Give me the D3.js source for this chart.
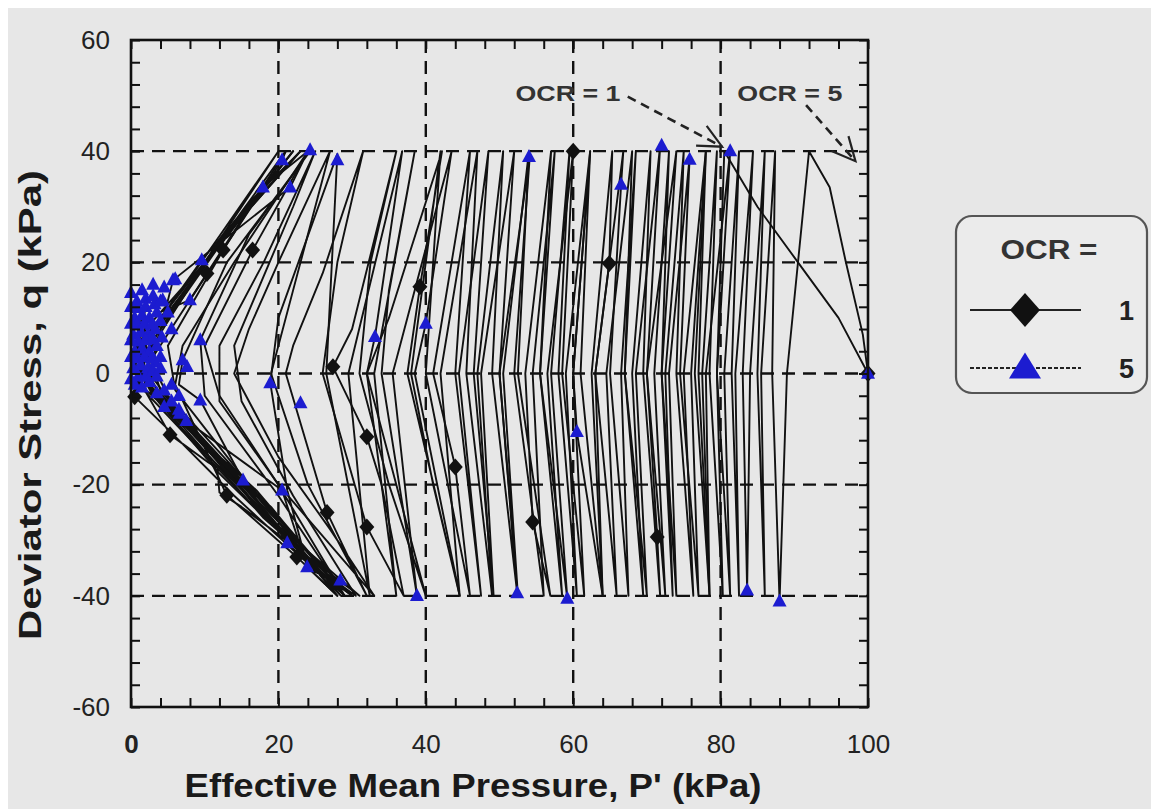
<!DOCTYPE html>
<html><head><meta charset="utf-8">
<script src="https://cdn.jsdelivr.net/npm/d3@7"></script>
<style>body{margin:0;background:#fff;} svg{display:block}</style>
</head><body><svg id="c" width="1151" height="809"></svg>
<script>
// ---------------- DATA ----------------
const xTickValues = [0, 20, 40, 60, 80, 100];
const yTickValues = [-60, -40, -20, 0, 20, 40, 60];
const gridX = [20, 40, 60, 80];
const gridY = [-40, -20, 0, 20, 40];
const legendTitle = "OCR =";
const seriesLabels = ["1", "5"];

// OCR = 1 stress path (p', q) in kPa
const ocr1Path = [
[100,0],[96,10],[90.5,20],[85,30],[80.5,40],
[79.5,0],[80.3,-40],
[78.5,0],[79.5,40],
[77.5,0],[78.5,-40],
[76.5,0],[78,40],
[75,0],[76.3,-40],
[74,0],[75,40],
[72.5,0],[73.5,-40],
[72,0],[74,40],
[70,0],[71.4,-29.4],[71.8,-40],
[69.5,0],[70.5,40],
[68,0],[69.5,-40],
[67,0],[68,40],
[64.5,0],[65.9,-40],
[63,0],[64.9,19.8],[65.3,40],
[62.5,0],[64,-40],
[61,0],[62.3,40],
[60,0],[61.5,-40],
[58.5,0],[60,40],
[56.5,0],[58.5,-40],
[55.5,0],[57,40],
[53.5,0],[54.5,-26.7],[56.9,-40],
[52.5,0],[54,40],
[50.5,0],[52.5,-40],
[50,0],[52,40],
[47.5,0],[49.2,-40],
[46.5,0],[48.5,40],
[44.5,0],[47.5,-40],
[44,0],[46,40],
[41,0],[44,-16.8],[46,-40],
[40,0],[42,40],
[38,0],[41,-20],[44.6,-40],
[37.5,0],[39.2,15.6],[42.2,40],
[35,10],[32,0],[36,-20],[40,-40],
[35,-20],[31,0],[32.5,20],[36,40],
[30,8],[27.4,1.2],[32,-11.4],[34,-20],[37,-40],
[32,-27.6],[26,0],[28,20],[31.5,40],
[26,18],[22,5],[21,0],[26.6,-25],[32,-40],
[24,-20],[19,0],[22,15],[27,40],
[20,20],[16,8],[14,0],[20,-15],[27,-28],[33,-40],
[20,-20],[12,-4],[10,5],[16.5,22.2],[24,40],
[14,20],[7,5],[6,-2],[13,-21.9],[22.5,-33],[28,-40],
[16,-20],[6,-3],[5,5],[12.5,22.2],[21,40],
[10.3,18],[3,3],[1,-1],[5.3,-11],[10.5,-16],[11.7,-17],[12,-21.4],[15,-24],[22,-31],[29,-40],
[18,-25],[5,-6],[1,0],[2,6],[9,19],[20,40],
[8,16],[1.5,3],[0.5,-4.2],[5,-10],[14,-22],[23,-33],[30,-40],
[15,-20],[4,-3],[2,5],[10,20],[22,40],
[9,18],[2,4],[1,-2],[6,-9],[16,-23],[24,-33],[31,-40],
[17,-24],[4,-4],[1.5,2],[11,22],[23,40],
[12,24],[3,6],[1,0],[7,-10],[18,-25],[29,-40],
[16,-22],[3,-2],[1,2]
];
const ocr1Markers = [
[100,0],[71.4,-29.4],[64.9,19.8],[60,40],[54.5,-26.7],[44,-16.8],[39.2,15.6],
[27.4,1.2],[32,-11.4],[32,-27.6],[26.6,-25],[22.5,-33],[16.5,22.2],[12.5,22.2],
[10.3,18],[13,-21.9],[5.3,-11],[0.5,-4.2]
];

// OCR = 5 stress path (p', q) in kPa
const ocr5Path = [
[100,0],[99.3,7],[97,20],[94.8,33.5],[92,40],
[89,0],[88,-41],
[87,0],[87.4,40],
[85.5,0],[86,-40],
[85,0],[86,40],
[84,0],[83.6,-39],
[83,0],[84.4,40],
[82,0],[82.5,-40],
[81.5,0],[82.5,40],
[80.5,0],[81.3,-40],
[79.5,0],[81.3,40],
[78,0],[78.5,-40],
[77,0],[78,40],
[76,0],[77,-40],
[74.5,0],[75.8,39],
[73,0],[74,-40],
[72,0],[73,40],
[71,0],[72.5,-40],
[70,0],[71.8,41],
[68.5,0],[70,-40],
[67,0],[68.5,40],
[66.5,0],[67.5,-40],
[65,0],[66.5,34],[66.8,40],
[63,0],[64,-40],
[60.5,-10.5],[60,0],[62.3,40],
[59,0],[60.5,-40],
[58,0],[59.5,40],
[57,0],[59.2,-40.5],
[55.5,0],[57.5,40],
[54.5,0],[56,-40],
[52,0],[54.1,39],
[50,0],[52.4,-39.5],
[49,0],[50.5,40],
[47,0],[49,-40],
[45.5,0],[47,40],
[42,0],[44.6,-40],
[38.5,0],[40,9],[43.5,40],
[35.5,0],[38.8,-40],
[34,0],[35,15],[38.5,40],
[33,0],[36,-40],
[32,0],[33.1,6.6],[36.8,40],
[29.5,0],[32.4,-40],
[26.5,0],[28,39.5],
[20,10],[18.9,-1.7],[21.2,-21],[24,-35],[28.4,-38],[30.5,-40],
[22,-22],[15,-5],[14,5],[22,30],[25,40],
[18,20],[12,5],[12,-5],[20,-20],[29,-40],
[20,-22],[10,-4],[9.4,6],[16,25],[24.3,40],
[13,20],[7,2.4],[6.5,-2],[9.4,-4.8],[15.2,-19.2],[21.2,-30.5],[28.5,-40],
[17,-22],[6.6,-7.2],[2.5,0],[5.7,16.8],[21.6,33.5],[24,40],
[17.9,33.5],[9.6,20.4],[3,8],[1,2],[3,-4],[7,-8],[20.5,-21],[23.9,-34.8],[28,-40],
[14,-18],[4,-4],[1,0],[2,10],[8,13.2],[20.5,38.4],[21,40],
[10,20],[2,8],[0.5,3],[1,-2],[4,-5],[13,-17],[23,-32],[29,-40],
[16,-20],[5,-4],[2,4],[9,18],[19,35],[22,40],
[12,23],[3,6],[1,1],[3,-3],[10,-13],[19,-24],[27,-37],[30,-40],
[18,-26],[6,-8],[2,-1],[1.5,6],[7,15],[17,32],[23,40],
[15,28],[5,11],[1.5,4],[2,-3],[8,-10],[17,-21],[26,-35],[29,-40],
[12,-18],[3,-4],[0.5,2],[1,8],[2,12],[1,5],[0.5,0]
];
const ocr5Markers = [
[100,0],[88,-41],[83.6,-39],[81.3,40],[75.8,38.5],[72,41],[66.5,34],[60.5,-10.5],[59.2,-40.5],
[54,39],[52.4,-39.5],[40,9],[38.8,-40],[33.1,6.6],[28,38.4],[28.4,-37.2],[24.3,40.2],
[20.5,38.4],[17.9,33.5],[21.6,33.5],[9.6,20.4],[5.7,16.8],[8,13.2],[4.3,13.2],[9.4,6],
[7,2.4],[7.6,1.2],[18.9,-1.7],[23,-5.3],[9.4,-4.8],[6.6,-7.2],[15.2,-19.2],[20.5,-21],
[21.2,-30.5],[23.9,-34.8],
[0.5,-2],[1.5,-2.5],[2.5,-1.5],[3.5,-0.5],
[0.3,1],[1.3,1.5],[2.3,1],[3.3,2],
[0.5,4],[1.5,4.5],[2.5,4],[3.5,5],
[0.3,7],[1.3,7.5],[2.3,7],[3.3,8],
[0.5,10],[1.5,10.5],[2.5,10],[3.5,11],
[0.8,13],[2,13.5],[3,14],[4.5,15.5],[6,17],
[4.5,-3],[5.5,-5],[6.5,-6.5],[7.5,-8.5],[4.5,-6],
[1,-0.5],[2,-0.5],[3,0.5],[4,1],[0.8,2.8],[1.8,3],[2.8,2.8],[4,3],
[1,5.8],[2,6],[3,6.2],[4.2,6.5],[0.8,8.8],[1.8,9],[2.8,8.8],[4,9.5],
[1,11.8],[2,12],[3.2,12.5],[4,13],[0,14.5],[1.5,15],[3,16],
[0,-1],[0,3],[0,6],[0,9],[0,12],[5.5,-2],[6.5,-4],[3.5,-3.5],[5.5,8],[5,11]
];

// annotations: label position and arrow (p', q)
const annoLabels = ["OCR = 1", "OCR = 5"];
const annoText = [[59.3, 50.5], [89.4, 50.5]];
const annoFrom = [[67.4, 49.8], [91.6, 48.3]];
const annoTo   = [[80.2, 40.8], [98.3, 38.2]];

// ---------------- DRAW ----------------
const svg = d3.select("#c");
svg.append("rect").attr("x",8).attr("y",8).attr("width",1143).attr("height",801).attr("fill","#e7e7e7");

const L=131, T=40, R=868, B=707;
const x = d3.scaleLinear().domain([0,100]).range([L,R]);
const y = d3.scaleLinear().domain([-60,60]).range([B,T]);
const FONT = "'Liberation Sans', Arial, Helvetica, sans-serif";

// grid
const g = svg.append("g");
g.selectAll(".gx").data(gridX).join("line")
  .attr("x1",d=>x(d)).attr("x2",d=>x(d)).attr("y1",T).attr("y2",B)
  .attr("stroke","#111").attr("stroke-width",2.4).attr("stroke-dasharray","13,8");
g.selectAll(".gy").data(gridY).join("line")
  .attr("y1",d=>y(d)).attr("y2",d=>y(d)).attr("x1",L).attr("x2",R)
  .attr("stroke","#111").attr("stroke-width",2.4).attr("stroke-dasharray","13,8");

// lines
const line = d3.line().x(d=>x(d[0])).y(d=>y(d[1]));
svg.append("path").attr("d",line(ocr1Path)).attr("fill","none")
  .attr("stroke","#111").attr("stroke-width",1.9).attr("stroke-linejoin","round");
svg.append("path").attr("d",line(ocr5Path)).attr("fill","none")
  .attr("stroke","#111").attr("stroke-width",1.9).attr("stroke-linejoin","round");

// marker shapes
function diamond(cx,cy,w,h){return `M${cx},${cy-h}L${cx+w},${cy}L${cx},${cy+h}L${cx-w},${cy}Z`;}
function tri(cx,cy,w,h){return `M${cx},${cy-h*0.6}L${cx+w},${cy+h*0.4}L${cx-w},${cy+h*0.4}Z`;}

svg.append("g").selectAll("path").data(ocr1Markers).join("path")
  .attr("d",d=>diamond(x(d[0]),y(d[1]),7.5,8.5)).attr("fill","#111");
svg.append("g").selectAll("path").data(ocr5Markers).join("path")
  .attr("d",d=>tri(x(d[0]),y(d[1]),7,13)).attr("fill","#1c1cd0");

// axes (inward ticks on all sides)
const minorX = d3.range(0,101,4), minorY = d3.range(-60,61,4);
const ax = svg.append("g").attr("transform",`translate(0,${B})`)
  .call(d3.axisBottom(x).tickValues(minorX).tickSize(-9).tickPadding(28)
    .tickFormat(d=>xTickValues.includes(d)?d:""));
const axT = svg.append("g").attr("transform",`translate(0,${T})`)
  .call(d3.axisTop(x).tickValues(minorX).tickSize(-9).tickFormat(""));
const ay = svg.append("g").attr("transform",`translate(${L},0)`)
  .call(d3.axisLeft(y).tickValues(minorY).tickSize(-9).tickPadding(21)
    .tickFormat(d=>yTickValues.includes(d)?d:""));
const ayR = svg.append("g").attr("transform",`translate(${R},0)`)
  .call(d3.axisRight(y).tickValues(minorY).tickSize(-9).tickFormat(""));
[ax,axT,ay,ayR].forEach(a=>{
  a.select(".domain").remove();
  a.selectAll(".tick line").attr("stroke","#111").attr("stroke-width",2);
  a.selectAll("text").attr("font-family",FONT).attr("font-size",26).attr("fill","#222");
});
ax.selectAll("text").filter(d=>d===0).attr("font-weight","bold");
svg.append("rect").attr("x",L).attr("y",T).attr("width",R-L).attr("height",B-T)
  .attr("fill","none").attr("stroke","#111").attr("stroke-width",2.6);

// axis titles
svg.append("text").attr("x",473).attr("y",797).attr("text-anchor","middle")
  .attr("font-family",FONT).attr("font-weight","bold").attr("font-size",33).attr("fill","#1a1a1a")
  .attr("textLength",577).attr("lengthAdjust","spacingAndGlyphs")
  .text("Effective Mean Pressure, P' (kPa)");
svg.append("text").attr("transform","translate(41,405) rotate(-90)").attr("text-anchor","middle")
  .attr("font-family",FONT).attr("font-weight","bold").attr("font-size",32).attr("fill","#1a1a1a")
  .attr("textLength",470).attr("lengthAdjust","spacingAndGlyphs")
  .text("Deviator Stress, q (kPa)");

// annotations
annoLabels.forEach((t,i)=>{
  svg.append("text").attr("x",x(annoText[i][0])).attr("y",y(annoText[i][1])+8).attr("text-anchor","middle")
    .attr("font-family",FONT).attr("font-weight","bold").attr("font-size",22).attr("fill","#333")
    .attr("textLength",105).attr("lengthAdjust","spacingAndGlyphs").text(t);
  const x1=x(annoFrom[i][0]), y1=y(annoFrom[i][1]), x2=x(annoTo[i][0]), y2=y(annoTo[i][1]);
  svg.append("line").attr("x1",x1).attr("y1",y1).attr("x2",x2).attr("y2",y2)
    .attr("stroke","#222").attr("stroke-width",2.6).attr("stroke-dasharray","9,6");
  const ang=Math.atan2(y2-y1,x2-x1), hl=26, ha=Math.PI/7;
  const p1=[x2-hl*Math.cos(ang-ha), y2-hl*Math.sin(ang-ha)];
  const p2=[x2-hl*Math.cos(ang+ha), y2-hl*Math.sin(ang+ha)];
  svg.append("path").attr("d",`M${p1}L${x2},${y2}L${p2}`).attr("fill","none")
    .attr("stroke","#222").attr("stroke-width",2.2);
});

// legend
const lg = svg.append("g");
lg.append("rect").attr("x",956).attr("y",216).attr("width",191).attr("height",177).attr("rx",16)
  .attr("fill","#ebebeb").attr("stroke","#555").attr("stroke-width",2.2);
lg.append("text").attr("x",1049).attr("y",259).attr("text-anchor","middle")
  .attr("font-family",FONT).attr("font-weight","bold").attr("font-size",27).attr("fill","#333")
  .attr("textLength",97).attr("lengthAdjust","spacingAndGlyphs").text(legendTitle);
lg.append("line").attr("x1",970).attr("x2",1081).attr("y1",310).attr("y2",310).attr("stroke","#222").attr("stroke-width",2);
lg.append("path").attr("d",diamond(1025,310,15,17)).attr("fill","#111");
lg.append("line").attr("x1",970).attr("x2",1081).attr("y1",368).attr("y2",368).attr("stroke","#222").attr("stroke-width",2.2).attr("stroke-dasharray","4,2");
lg.append("path").attr("d",tri(1025,368,16,26)).attr("fill","#1c1cd0");
lg.selectAll(".lab").data(seriesLabels).join("text")
  .attr("x",1134).attr("y",(d,i)=>[320,378][i]).attr("text-anchor","end")
  .attr("font-family",FONT).attr("font-weight","bold").attr("font-size",27).attr("fill","#222").text(d=>d);
</script></body></html>
